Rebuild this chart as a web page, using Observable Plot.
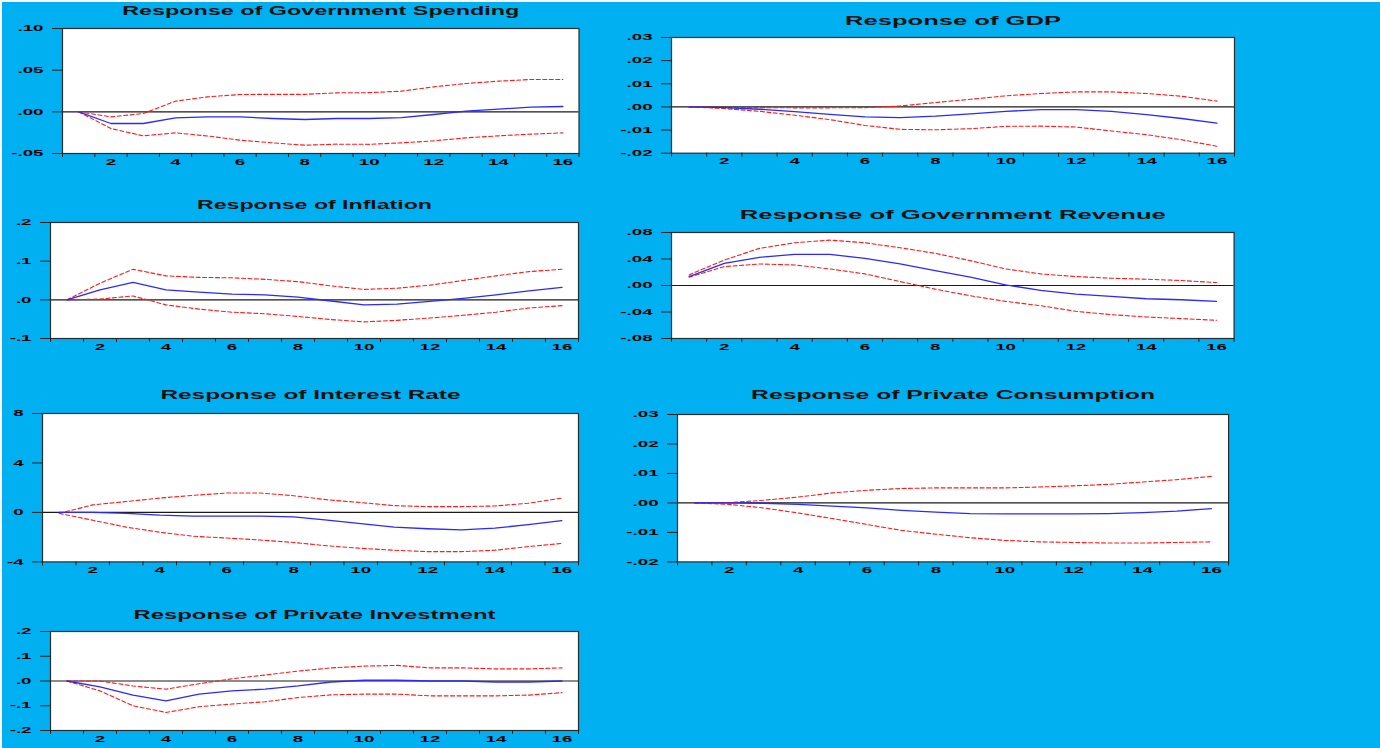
<!DOCTYPE html>
<html>
<head>
<meta charset="utf-8">
<script src="https://cdn.jsdelivr.net/npm/d3@7"></script>
<script src="https://cdn.jsdelivr.net/npm/@observablehq/plot@0.6"></script>
<style>
  html, body { margin: 0; padding: 0; background: #ffffff; }
  #wrap { position: absolute; left: 2px; top: 2px; width: 1378px; height: 746px; background: #00b0f0; overflow: hidden; }
  #wrap > div, #wrap > svg { position: absolute; }
</style>
</head>
<body>
<div id="wrap"></div>
<script>
// ---------- data ----------
const periods = [1,2,3,4,5,6,7,8,9,10,11,12,13,14,15,16];
const xTickPositions = [0.5,1.5,2.5,3.5,4.5,5.5,6.5,7.5,8.5,9.5,10.5,11.5,12.5,13.5,14.5,15.5,16.5];
const xLabels = [2,4,6,8,10,12,14,16];

// Response of Government Spending
const gsTitle = "Response of Government Spending";
const gsTicks = [-0.05, 0, 0.05, 0.10];
const gsLabels = ["-.05", ".00", ".05", ".10"];
const gsMid   = [0, -0.014, -0.014, -0.0072, -0.006, -0.006, -0.008, -0.0092, -0.008, -0.008, -0.007, -0.0032, 0.0008, 0.0032, 0.0056, 0.0064];
const gsUpper = [0, -0.006, -0.002, 0.0128, 0.018, 0.0208, 0.021, 0.021, 0.0228, 0.023, 0.0248, 0.030, 0.034, 0.0368, 0.0388, 0.0388];
const gsLower = [0, -0.020, -0.0288, -0.0252, -0.029, -0.034, -0.0372, -0.040, -0.0388, -0.039, -0.0372, -0.0348, -0.0312, -0.0288, -0.0268, -0.0252];

// Response of GDP
const gdpTitle = "Response of GDP";
const gdpTicks = [-0.02, -0.01, 0, 0.01, 0.02, 0.03];
const gdpLabels = ["-.02", "-.01", ".00", ".01", ".02", ".03"];
const gdpMid   = [0, -0.0003, -0.001, -0.002, -0.0032, -0.0043, -0.0046, -0.004, -0.003, -0.0019, -0.0012, -0.0012, -0.0019, -0.0033, -0.005, -0.007];
const gdpUpper = [0, -0.0003, -0.0003, -0.0004, -0.0004, -0.0003, 0.0004, 0.0019, 0.0033, 0.0048, 0.0058, 0.0065, 0.0065, 0.0058, 0.0046, 0.0025];
const gdpLower = [0, -0.0007, -0.0019, -0.0036, -0.0055, -0.008, -0.0097, -0.0099, -0.0094, -0.0084, -0.0083, -0.0087, -0.0104, -0.012, -0.0142, -0.017];

// Response of Inflation
const infTitle = "Response of Inflation";
const infTicks = [-0.1, 0, 0.1, 0.2];
const infLabels = ["-.1", ".0", ".1", ".2"];
const infMid   = [0, 0.026, 0.045, 0.026, 0.020, 0.015, 0.013, 0.007, -0.003, -0.013, -0.011, -0.004, 0.004, 0.013, 0.023, 0.032];
const infUpper = [0, 0.043, 0.079, 0.062, 0.058, 0.057, 0.053, 0.047, 0.036, 0.027, 0.030, 0.038, 0.050, 0.062, 0.073, 0.079];
const infLower = [0, 0.002, 0.010, -0.013, -0.024, -0.032, -0.036, -0.043, -0.051, -0.057, -0.053, -0.047, -0.040, -0.032, -0.021, -0.015];

// Response of Government Revenue
const grTitle = "Response of Government Revenue";
const grTicks = [-0.08, -0.04, 0, 0.04, 0.08];
const grLabels = ["-.08", "-.04", ".00", ".04", ".08"];
const grMid   = [0.0135, 0.0335, 0.0425, 0.047, 0.047, 0.041, 0.0325, 0.0225, 0.0125, 0.001, -0.0075, -0.013, -0.0165, -0.020, -0.0215, -0.024];
const grUpper = [0.016, 0.0385, 0.056, 0.0645, 0.0685, 0.0645, 0.057, 0.0485, 0.0375, 0.025, 0.0175, 0.0135, 0.011, 0.0095, 0.0075, 0.0045];
const grLower = [0.0125, 0.0285, 0.0325, 0.031, 0.025, 0.0175, 0.006, -0.0055, -0.0155, -0.024, -0.0305, -0.039, -0.044, -0.0475, -0.050, -0.0525];

// Response of Interest Rate
const irTitle = "Response of Interest Rate";
const irTicks = [-4, 0, 4, 8];
const irLabels = ["-4", "0", "4", "8"];
const irMid   = [0, 0, -0.08, -0.22, -0.30, -0.30, -0.30, -0.36, -0.63, -0.91, -1.19, -1.32, -1.41, -1.27, -0.99, -0.66];
const irUpper = [-0.08, 0.61, 0.88, 1.16, 1.38, 1.57, 1.57, 1.35, 1.02, 0.80, 0.55, 0.47, 0.47, 0.52, 0.74, 1.16];
const irLower = [-0.08, -0.63, -1.19, -1.60, -1.93, -2.07, -2.23, -2.43, -2.70, -2.90, -3.06, -3.17, -3.17, -3.06, -2.76, -2.51];

// Response of Private Consumption
const pcTitle = "Response of Private Consumption";
const pcTicks = [-0.02, -0.01, 0, 0.01, 0.02, 0.03];
const pcLabels = ["-.02", "-.01", ".00", ".01", ".02", ".03"];
const pcMid   = [0, 0, -0.0001, -0.0005, -0.0011, -0.0017, -0.0025, -0.0031, -0.0036, -0.0037, -0.0037, -0.0037, -0.0036, -0.0033, -0.0028, -0.0019];
const pcUpper = [0, 0.0001, 0.0009, 0.002, 0.0034, 0.0043, 0.0049, 0.0051, 0.0051, 0.0051, 0.0054, 0.0058, 0.0063, 0.0071, 0.0079, 0.009];
const pcLower = [0, -0.0005, -0.0017, -0.0034, -0.0053, -0.0073, -0.0093, -0.0106, -0.0118, -0.0127, -0.0132, -0.0134, -0.0136, -0.0136, -0.0134, -0.0132];

// Response of Private Investment
const piTitle = "Response of Private Investment";
const piTicks = [-0.2, -0.1, 0, 0.1, 0.2];
const piLabels = ["-.2", "-.1", ".0", ".1", ".2"];
const piMid   = [0, -0.024, -0.057, -0.080, -0.053, -0.040, -0.033, -0.020, -0.004, 0.003, 0.003, 0, 0, -0.004, -0.004, 0];
const piUpper = [0, 0, -0.020, -0.033, -0.011, 0.009, 0.024, 0.040, 0.053, 0.060, 0.063, 0.053, 0.053, 0.049, 0.049, 0.053];
const piLower = [0, -0.040, -0.100, -0.127, -0.104, -0.093, -0.084, -0.067, -0.056, -0.053, -0.053, -0.060, -0.060, -0.060, -0.057, -0.047];

// ---------- layout (frame boxes in page pixels, title centre y, title width) ----------
const panels = [
  {title: gsTitle,  ticks: gsTicks,  labels: gsLabels,  mid: gsMid,  up: gsUpper,  lo: gsLower,  box: [61.5, 578, 27.5, 152.5], ty: 10,   tw: 397},
  {title: gdpTitle, ticks: gdpTicks, labels: gdpLabels, mid: gdpMid, up: gdpUpper, lo: gdpLower, box: [671, 1234, 37, 152.7],   ty: 20.7, tw: 216},
  {title: infTitle, ticks: infTicks, labels: infLabels, mid: infMid, up: infUpper, lo: infLower, box: [50, 578, 222.3, 338.3],  ty: 205,  tw: 235},
  {title: grTitle,  ticks: grTicks,  labels: grLabels,  mid: grMid,  up: grUpper,  lo: grLower,  box: [671.4, 1234, 232.3, 338.3], ty: 215, tw: 426},
  {title: irTitle,  ticks: irTicks,  labels: irLabels,  mid: irMid,  up: irUpper,  lo: irLower,  box: [42, 578, 413.3, 561.7],  ty: 395,  tw: 300},
  {title: pcTitle,  ticks: pcTicks,  labels: pcLabels,  mid: pcMid,  up: pcUpper,  lo: pcLower,  box: [676.7, 1227.8, 414.3, 561.7], ty: 395, tw: 404},
  {title: piTitle,  ticks: piTicks,  labels: piLabels,  mid: piMid,  up: piUpper,  lo: piLower,  box: [50, 578, 631, 730],       ty: 615,  tw: 362}
];

const ML = 60, MR = 12, MT = 40, MB = 28;
const wrap = document.getElementById("wrap");
const OFFX = 2, OFFY = 2; // wrap offset

for (const p of panels) {
  const [l, r, t, b] = p.box;
  const labelMap = new Map(p.ticks.map((v, i) => [v, p.labels[i]]));
  const chart = Plot.plot({
    width: (r - l) + ML + MR,
    height: (b - t) + MT + MB,
    marginLeft: ML, marginRight: MR, marginTop: MT, marginBottom: MB,
    style: {background: "transparent", color: "#000", fontFamily: "'Liberation Sans', Arial, sans-serif", fontSize: "8.5px", fontWeight: "bold", overflow: "visible"},
    x: {domain: [0.5, 16.5], axis: null},
    y: {domain: [p.ticks[0], p.ticks[p.ticks.length - 1]], axis: null},
    marks: [
      Plot.frame({fill: "white", stroke: null}),
      Plot.ruleY([0], {stroke: "#1a1a1a", strokeWidth: 1.2}),
      Plot.lineY(p.up, {x: periods, stroke: "#ff1a1a", strokeWidth: 1.1, strokeDasharray: "4,2.5"}),
      Plot.lineY(p.lo, {x: periods, stroke: "#ff1a1a", strokeWidth: 1.1, strokeDasharray: "4,2.5"}),
      Plot.lineY(p.mid, {x: periods, stroke: "#2a2aff", strokeWidth: 1.3}),
      Plot.frame({stroke: "#2b2b2b", strokeWidth: 1.2}),
      Plot.axisX(xTickPositions, {tickSize: 4, tickFormat: () => "", stroke: "#222"}),
      Plot.axisX(xLabels, {tickSize: 0, tickPadding: 5, tickFormat: d => String(d)}),
      Plot.axisY(p.ticks, {tickSize: 10, tickPadding: 9, tickFormat: d => labelMap.get(d), stroke: "#222"}),
      Plot.text([p.title], {frameAnchor: "top", lineAnchor: "middle", dy: p.ty - t, fontSize: 12, fontWeight: "bold", fill: "#111"})
    ]
  });
  chart.style.left = (l - ML - OFFX) + "px";
  chart.style.top = (t - MT - OFFY) + "px";
  wrap.appendChild(chart);
  // horizontally stretched lettering as in the reference
  chart.querySelectorAll("text").forEach(el => {
    const isTitle = el.textContent === p.title;
    const len = el.getComputedTextLength();
    if (!len) return;
    el.setAttribute("textLength", (isTitle ? p.tw : len * 2.2).toFixed(1));
    el.setAttribute("lengthAdjust", "spacingAndGlyphs");
  });
}
</script>
</body>
</html>
